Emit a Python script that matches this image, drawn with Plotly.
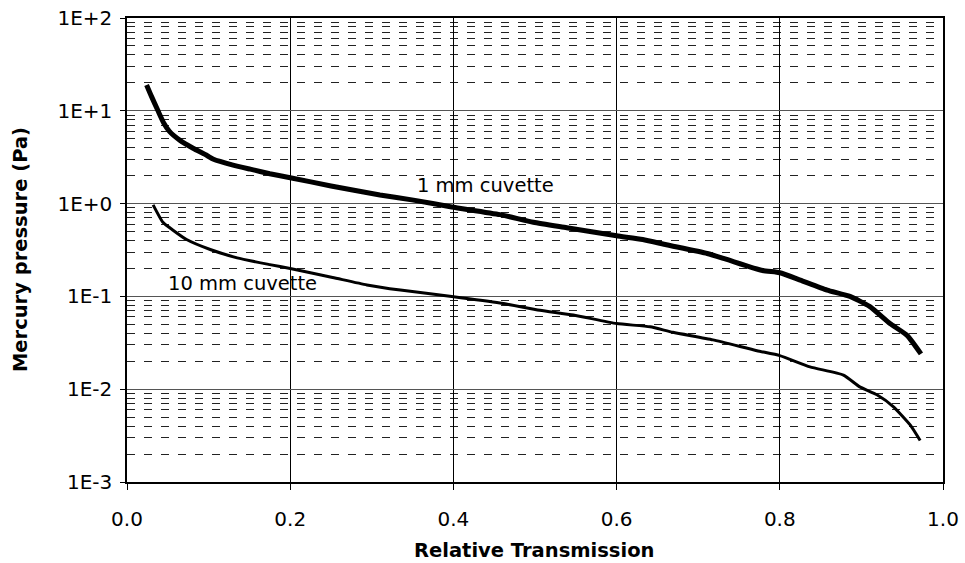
import numpy as np
import plotly.graph_objects as go

# 1 mm cuvette
x_1mm = [0.024, 0.030, 0.038, 0.045, 0.052, 0.065, 0.081, 0.098, 0.106, 0.130, 0.151, 0.175,
         0.200, 0.250, 0.310, 0.351, 0.398, 0.457, 0.498, 0.539, 0.600, 0.632, 0.661, 0.711,
         0.735, 0.779, 0.800, 0.825, 0.858, 0.886, 0.910, 0.935, 0.956, 0.973]
y_1mm = [19, 14.3, 10, 7.4, 6.0, 4.8, 3.95, 3.3, 3.0, 2.6, 2.35, 2.1,
         1.9, 1.55, 1.24, 1.09, 0.92, 0.76, 0.63, 0.55, 0.45, 0.41, 0.36, 0.29,
         0.25, 0.19, 0.18, 0.15, 0.117, 0.10, 0.078, 0.051, 0.038, 0.024]

# 10 mm cuvette
x_10mm = [0.032, 0.044, 0.056, 0.073, 0.102, 0.135, 0.175, 0.200, 0.252, 0.294, 0.335, 0.398,
          0.457, 0.506, 0.547, 0.600, 0.641, 0.669, 0.718, 0.772, 0.800, 0.837, 0.878, 0.898,
          0.919, 0.939, 0.960, 0.972]
y_10mm = [0.97, 0.63, 0.52, 0.41, 0.32, 0.26, 0.22, 0.20, 0.16, 0.133, 0.117, 0.100,
          0.085, 0.071, 0.063, 0.051, 0.047, 0.041, 0.034, 0.026, 0.023, 0.0174, 0.0142, 0.0106,
          0.0087, 0.0065, 0.0041, 0.0028]

y_tickvals = [1e-3, 1e-2, 1e-1, 1e0, 1e1, 1e2]
y_ticktext = ["1E-3", "1E-2", "1E-1", "1E+0", "1E+1", "1E+2"]
x_tickvals = [0.0, 0.2, 0.4, 0.6, 0.8, 1.0]
x_ticktext = ["0.0", "0.2", "0.4", "0.6", "0.8", "1.0"]

minor_vals = [m * 10.0 ** e for e in range(-3, 2) for m in range(2, 10)]

FONT = "DejaVu Sans"

fig = go.Figure()
fig.add_trace(go.Scatter(x=x_1mm, y=y_1mm, mode="lines",
                         line=dict(color="black", width=5, shape="spline", smoothing=0.5),
                         showlegend=False))
fig.add_trace(go.Scatter(x=x_10mm, y=y_10mm, mode="lines",
                         line=dict(color="black", width=3, shape="spline", smoothing=0.5),
                         showlegend=False))

fig.add_annotation(x=0.439, y=np.log10(1.55), text="1 mm cuvette", showarrow=False,
                   font=dict(family=FONT, size=19.5, color="black"))
fig.add_annotation(x=0.141, y=np.log10(0.139), text="10 mm cuvette", showarrow=False,
                   font=dict(family=FONT, size=19.5, color="black"))

# axis titles
fig.add_annotation(xref="paper", yref="paper", x=0.499, y=-0.147,
                   text="<b>Relative Transmission</b>", showarrow=False,
                   xanchor="center", yanchor="middle",
                   font=dict(family=FONT, size=19.5, color="black"))
fig.add_annotation(xref="paper", yref="paper", x=-0.131, y=0.5,
                   text="<b>Mercury pressure (Pa)</b>", showarrow=False, textangle=-90,
                   xanchor="center", yanchor="middle",
                   font=dict(family=FONT, size=19.5, color="black"))

fig.update_layout(
    width=965, height=563,
    margin=dict(l=127, r=22, t=18, b=81),
    paper_bgcolor="white", plot_bgcolor="white",
    font=dict(family=FONT, size=20, color="black"),
    xaxis=dict(
        range=[0, 1], tickvals=x_tickvals, ticktext=x_ticktext,
        showgrid=True, gridcolor="black", gridwidth=1,
        showline=True, linecolor="black", linewidth=1.5, mirror=True,
        ticks="outside", ticklen=6, tickcolor="black",
        ticklabelstandoff=12,
        zeroline=False, automargin=False,
        tickfont=dict(family=FONT, size=20),
    ),
    yaxis=dict(
        type="log", range=[-3, 2], tickvals=y_tickvals, ticktext=y_ticktext,
        showgrid=True, gridcolor="#555555", gridwidth=1,
        showline=True, linecolor="black", linewidth=1.5, mirror=True,
        ticks="outside", ticklen=5, tickcolor="black",
        ticklabelstandoff=4,
        zeroline=False, automargin=False,
        tickfont=dict(family=FONT, size=20),
        minor=dict(tickvals=minor_vals, showgrid=True, gridcolor="#222222", gridwidth=1,
                   griddash="8px,9px", ticks=""),
    ),
)

fig.write_html("out.html")
